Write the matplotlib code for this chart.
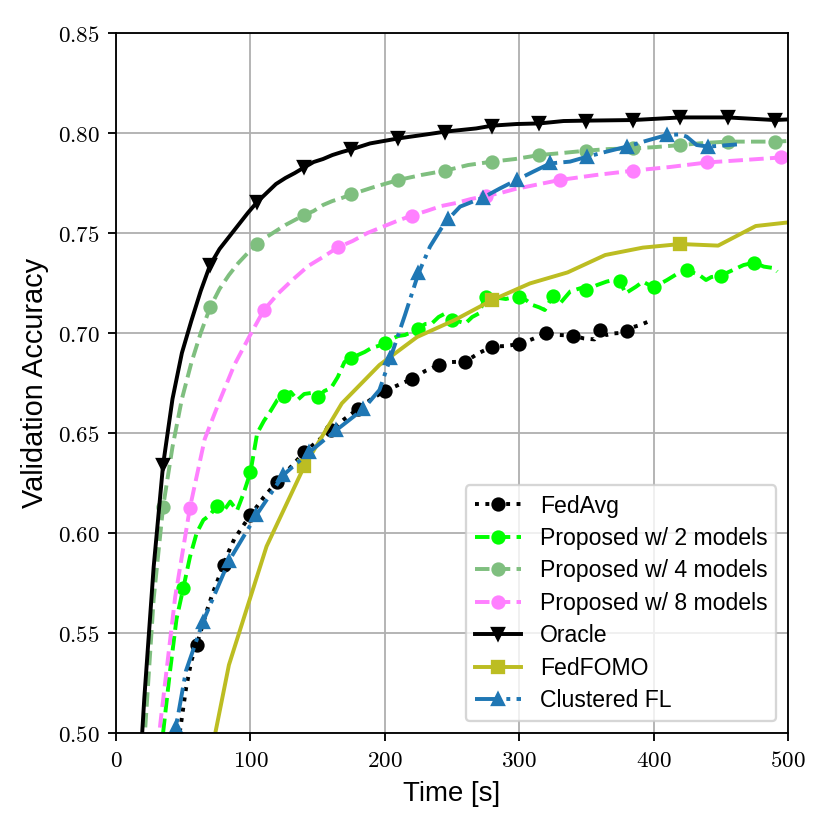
import matplotlib
matplotlib.use("Agg")
import matplotlib.pyplot as plt
from matplotlib.ticker import FuncFormatter, MultipleLocator

plt.rcParams['font.family'] = ['Liberation Sans', 'DejaVu Sans']
plt.rcParams['mathtext.fontset'] = 'cm'

# ---------------- data ----------------
fedavg_t = [44, 48, 52, 56, 60, 64, 68, 72, 76, 80, 84, 88, 92, 96, 100, 110, 120, 130, 140, 150,
            160, 170, 180, 190, 200, 210, 220, 230, 240, 250, 260, 270, 280, 290, 300, 310, 320,
            330, 340, 348, 356, 360, 365, 370, 375, 380, 385, 390, 396]
fedavg_acc = [0.485, 0.503, 0.522, 0.536, 0.544, 0.553, 0.562, 0.570, 0.577, 0.584, 0.591, 0.597,
              0.601, 0.605, 0.6088, 0.618, 0.6257, 0.633, 0.6403, 0.646, 0.6515, 0.657, 0.662,
              0.667, 0.671, 0.674, 0.677, 0.681, 0.684, 0.6855, 0.6857, 0.690, 0.6932, 0.6935,
              0.6945, 0.697, 0.700, 0.699, 0.6987, 0.6973, 0.6968, 0.7015, 0.699, 0.6998, 0.700,
              0.7012, 0.703, 0.704, 0.7057]

p2_t = [35, 40, 45, 50, 55, 60, 65, 70, 75, 80, 85, 90, 95, 100, 105, 110, 115, 120, 125, 130,
        135, 140, 145, 150, 155, 160, 165, 170, 175, 180, 185, 190, 195, 200, 205, 210, 215, 220,
        225, 230, 235, 240, 245, 250, 255, 260, 265, 270, 275, 280, 285, 290, 295, 300, 305, 310,
        315, 319, 325, 330, 338, 346, 350, 358, 365, 370, 375, 379, 387, 392, 400, 410, 418, 425,
        434, 439, 443, 450, 459, 467, 475, 482, 489, 492]
p2_acc = [0.500, 0.530, 0.557, 0.5723, 0.588, 0.600, 0.6065, 0.609, 0.6137, 0.611, 0.6157, 0.6112,
          0.620, 0.6303, 0.6498, 0.656, 0.661, 0.6665, 0.6685, 0.6705, 0.6665, 0.6695, 0.670,
          0.6678, 0.671, 0.6725, 0.678, 0.6855, 0.6877, 0.689, 0.6905, 0.6925, 0.6935, 0.6948,
          0.697, 0.6985, 0.699, 0.7005, 0.702, 0.7045, 0.7048, 0.708, 0.7098, 0.7065, 0.7058,
          0.7048, 0.708, 0.7098, 0.7182, 0.718, 0.7175, 0.717, 0.7178, 0.7182, 0.7165, 0.714,
          0.7128, 0.7115, 0.7185, 0.7145, 0.7208, 0.7225, 0.7215, 0.724, 0.7257, 0.7265, 0.726,
          0.7198, 0.7232, 0.7257, 0.7228, 0.7265, 0.7298, 0.7313, 0.729, 0.7265, 0.728, 0.7287,
          0.7315, 0.734, 0.7352, 0.7332, 0.7325, 0.7307]

p4_t = [14, 21, 28, 35, 42, 49, 56, 63, 70, 77, 84, 91, 98, 105, 112, 119, 126, 133, 140, 147,
        154, 161, 168, 175, 192, 210, 227, 245, 262, 280, 297, 315, 332, 350, 367, 385, 402, 420,
        437, 455, 472, 490, 500]
p4_acc = [0.43, 0.495, 0.567, 0.613, 0.643, 0.667, 0.685, 0.700, 0.7128, 0.722, 0.729, 0.735,
          0.740, 0.7443, 0.748, 0.751, 0.754, 0.7565, 0.759, 0.761, 0.764, 0.766, 0.7675, 0.7693,
          0.773, 0.7765, 0.779, 0.7812, 0.784, 0.7857, 0.787, 0.789, 0.790, 0.7912, 0.792,
          0.7923, 0.793, 0.794, 0.795, 0.7957, 0.7957, 0.7957, 0.796]

p8_t = [22, 33, 44, 55, 66, 77, 88, 99, 110, 121, 132, 143, 154, 165, 176, 187, 198, 209, 220,
        231, 242, 253, 264, 275, 286, 297, 308, 319, 330, 357, 385, 412, 440, 467, 495, 500]
p8_acc = [0.43, 0.505, 0.568, 0.6127, 0.647, 0.666, 0.684, 0.698, 0.7115, 0.720, 0.727, 0.7335,
          0.738, 0.7428, 0.746, 0.750, 0.753, 0.756, 0.7587, 0.761, 0.7635, 0.765, 0.767, 0.7685,
          0.770, 0.772, 0.7735, 0.775, 0.7765, 0.779, 0.7812, 0.783, 0.7853, 0.7865, 0.7878, 0.788]

oracle_t = [14, 21, 28, 35, 42, 49, 56, 63, 70, 77, 84, 91, 98, 105, 112, 119, 126, 133, 140, 147,
            154, 161, 168, 175, 189, 210, 231, 245, 268, 280, 298, 315, 333, 350, 385, 420, 455,
            490, 500]
oracle_acc = [0.44, 0.517, 0.583, 0.634, 0.667, 0.690, 0.706, 0.721, 0.734, 0.742, 0.748, 0.754,
              0.760, 0.7655, 0.770, 0.7745, 0.7775, 0.780, 0.7828, 0.7855, 0.787, 0.789, 0.7905,
              0.7918, 0.7948, 0.7973, 0.7993, 0.8007, 0.8023, 0.8037, 0.8045, 0.8048, 0.8060,
              0.8062, 0.8065, 0.8078, 0.8078, 0.8065, 0.8068]

fedfomo_t = [56, 84, 112, 140, 168, 196, 224, 252, 280, 308, 336, 364, 392, 420, 448, 476, 504]
fedfomo_acc = [0.44, 0.534, 0.5933, 0.6333, 0.6648, 0.684, 0.698, 0.7065, 0.7165, 0.7248, 0.7303,
               0.739, 0.7427, 0.7445, 0.7437, 0.7535, 0.7556]

cfl_t = [40, 44.6, 52, 64.5, 84, 104.5, 124.5, 143.6, 164, 184, 196, 204.2, 215, 225, 233.6, 242,
         247, 256, 273, 285.7, 298, 310.5, 323, 337.8, 350.7, 365, 380, 395, 409.7, 419.6, 424.6,
         432, 440.7, 462]
cfl_acc = [0.49, 0.503, 0.531, 0.5553, 0.586, 0.609, 0.629, 0.6403, 0.6515, 0.662, 0.6715, 0.6876,
           0.709, 0.7298, 0.7432, 0.7523, 0.7568, 0.7632, 0.7677, 0.7723, 0.7765, 0.7807, 0.7848,
           0.7857, 0.7882, 0.7907, 0.7932, 0.7962, 0.799, 0.7993, 0.7982, 0.794, 0.7932, 0.7943]
cfl_marks = [1, 3, 4, 5, 6, 7, 8, 9, 11, 13, 16, 18, 20, 22, 24, 26, 28, 32]

labels = ["FedAvg", "Proposed w/ 2 models", "Proposed w/ 4 models", "Proposed w/ 8 models",
          "Oracle", "FedFOMO", "Clustered FL"]

# ---------------- plot ----------------
def marks(t, step, start):
    return [i for i, v in enumerate(t) if v >= start and abs(v % step) < 1e-9]

MS = 5.2
LW = 1.7
fig = plt.figure(figsize=(5, 5), dpi=166)
ax = fig.add_axes([0.1398, 0.1169, 0.8096, 0.8433])

ax.plot(fedavg_t, fedavg_acc, ':', color='black', marker='o', ms=MS, lw=LW,
        markevery=marks(fedavg_t, 20, 60), label=labels[0])
ax.plot(p2_t, p2_acc, '--', color='lime', marker='o', ms=MS, lw=LW,
        markevery=marks(p2_t, 25, 50), label=labels[1])
ax.plot(p4_t, p4_acc, '--', color='#7fbf7f', marker='o', ms=MS, lw=LW,
        markevery=marks(p4_t, 35, 35), label=labels[2])
ax.plot(p8_t, p8_acc, '--', color='#ff80ff', marker='o', ms=MS, lw=LW,
        markevery=marks(p8_t, 55, 55), label=labels[3])
ax.plot(oracle_t, oracle_acc, '-', color='black', marker='v', ms=MS, lw=LW,
        markevery=marks(oracle_t, 35, 35), label=labels[4])
ax.plot(fedfomo_t, fedfomo_acc, '-', color='#bcbd22', marker='s', ms=MS, lw=LW,
        markevery=marks(fedfomo_t, 140, 140), label=labels[5])
ax.plot(cfl_t, cfl_acc, '-.', color='#1f77b4', marker='^', ms=MS, lw=LW,
        markevery=cfl_marks, label=labels[6])

ax.set_xlim(0, 500)
ax.set_ylim(0.50, 0.85)
ax.xaxis.set_major_locator(MultipleLocator(100))
ax.yaxis.set_major_locator(MultipleLocator(0.05))
ax.xaxis.set_major_formatter(FuncFormatter(lambda v, p: r'$%d$' % round(v)))
ax.yaxis.set_major_formatter(FuncFormatter(lambda v, p: r'$%.2f$' % v))
ax.tick_params(labelsize=10)
ax.grid(True)
ax.set_xlabel("Time [s]", fontsize=12)
ax.set_ylabel("Validation Accuracy", fontsize=12.5)
ax.legend(loc='lower right', fontsize=10, labelspacing=0.41)

fig.savefig("out.png", dpi=166)
